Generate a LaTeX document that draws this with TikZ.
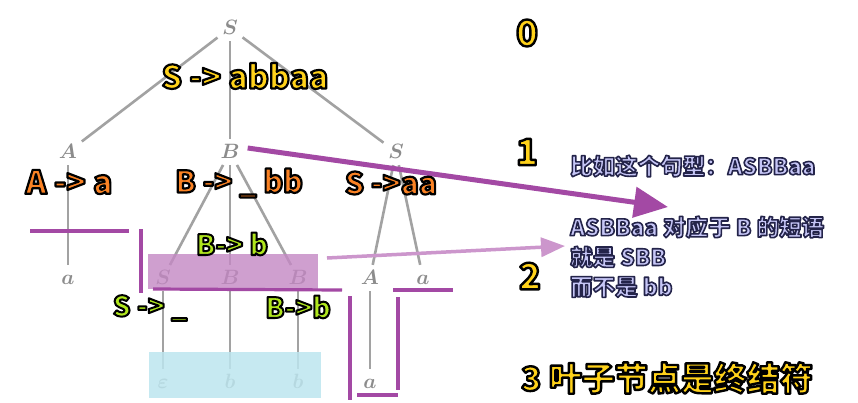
\documentclass[tikz,border=0pt]{standalone}
\usepackage{fontspec}
\newfontfamily\hei{Noto Sans CJK SC}
\usetikzlibrary{arrows.meta}
% 描边文字: 描边色, 线宽, 文字
\newcommand\outl[3]{\special{pdf:literal direct #1 RG #2 w 1 j 2 Tr}#3\special{pdf:literal direct 0 Tr}}
\definecolor{treegray}{HTML}{8C8C8C}
\definecolor{edgegray}{HTML}{A2A2A2}
\definecolor{ylw}{HTML}{FFD21A}
\definecolor{org}{HTML}{FA8224}
\definecolor{grn}{HTML}{B0E61E}
\definecolor{lav}{HTML}{C6C6F6}
\definecolor{purp}{HTML}{A349A4}
\definecolor{lpurp}{HTML}{CC96CC}
\definecolor{hlpurp}{HTML}{C488C4}
\definecolor{hlblue}{HTML}{BDE6EF}
\begin{document}
\begin{tikzpicture}[x=1pt,y=-1pt,
    sym/.style={text=treegray,font=\fontsize{22}{22}\selectfont\boldmath,inner sep=3pt,text height=14pt,text depth=2pt},
    edge/.style={draw=edgegray,line width=2.6pt,shorten <=2pt,shorten >=2pt},
    rulelab/.style={font=\hei\bfseries\fontsize{#1}{#1}\selectfont,inner sep=0pt},
    rulelab/.default=22,
    note/.style={text=lav,font=\hei\bfseries\fontsize{22.5}{22.5}\selectfont,inner sep=0pt,anchor=west},
    hlline/.style={draw=purp,line width=3.2pt},
    bigarrow/.style={draw=purp,line width=5pt,-{Triangle[length=34pt,width=30pt]}},
    smallarrow/.style={draw=lpurp,line width=3.5pt,-{Triangle[length=24pt,width=19pt]}}]
  \fill[white] (0,0) rectangle (858,402);
  \useasboundingbox (0,0) rectangle (858,402);
  % 语法树
  \node[sym] (r)  at (230,28)  {$S$};
  \node[sym] (nA) at (68,152)  {$A$};
  \node[sym] (nB) at (230,152) {$B$};
  \node[sym] (nS) at (396,152) {$S$};
  \node[sym] (a1) at (68,278)  {$a$};
  \node[sym] (s2) at (163,278) {$S$};
  \node[sym] (b2) at (230,278) {$B$};
  \node[sym] (b3) at (298,278) {$B$};
  \node[sym] (A2) at (370,278) {$A$};
  \node[sym] (a2) at (423,278) {$a$};
  \node[sym] (e3) at (163,382) {$\varepsilon$};
  \node[sym] (b4) at (230,382) {$b$};
  \node[sym] (b5) at (298,382) {$b$};
  \node[sym] (a3) at (370,382) {$a$};
  \draw[edge] (r) -- (nA);
  \draw[edge] (r) -- (nB);
  \draw[edge] (r) -- (nS);
  \draw[edge] (nA) -- (a1);
  \draw[edge] (nB) -- (s2);
  \draw[edge] (nB) -- (b2);
  \draw[edge] (nB) -- (b3);
  \draw[edge] (nS) -- (A2);
  \draw[edge] (nS) -- (a2);
  \draw[edge] (s2) -- (e3);
  \draw[edge] (b2) -- (b4);
  \draw[edge] (b3) -- (b5);
  \draw[edge] (A2) -- (a3);
  % 短语和叶子
  \fill[hlpurp,fill opacity=0.8] (148,254) rectangle (318,289);
  \fill[hlblue,fill opacity=0.85] (149,352) rectangle (321,398);
  \draw[hlline] (30,231) -- (129,231);
  \draw[hlline] (141,229) -- (141,293);
  \draw[hlline] (153,289) -- (342,290);
  \draw[hlline] (350,296) -- (350,400);
  \draw[hlline] (357,395) -- (398,395);
  \draw[hlline] (398,297) -- (398,390);
  \draw[hlline] (393,290) -- (453,290);
  \coordinate (tipA) at (668,207);
  \coordinate (lstart) at (327,258);
  \coordinate (tipB) at (565,246);
  \draw[bigarrow] ([xshift=5pt,yshift=4pt]nB.east) -- (tipA);
  \draw[smallarrow] (lstart) -- (tipB);
  % 产生式
  \node[rulelab=32,text=ylw] (pS) at (245,76) {\outl{0 0 0}{2.2}{S -> abbaa}};
  \node[rulelab=32,text=org] (pA) at (69,182) {\outl{0 0 0}{2.2}{A -> a}};
  \node[rulelab=30,text=org] (pB) at (239,183) {\outl{0 0 0}{2.2}{B -> \_ bb}};
  \node[rulelab=30,text=org] (pS2) at (391,183) {\outl{0 0 0}{2.2}{S ->aa}};
  \node[rulelab=28,text=grn] (pB2) at (232,244) {\outl{0 0 0}{2}{B-> b}};
  \node[rulelab=28,text=grn] (pS3) at (150,308) {\outl{0 0 0}{2}{S -> \_}};
  \node[rulelab=28,text=grn] (pB3) at (298,307) {\outl{0 0 0}{2}{B->b}};
  % 层数
  \node[rulelab=36,text=ylw] (l0) at (527,33)  {\outl{0 0 0}{2.4}{0}};
  \node[rulelab=36,text=ylw] (l1) at (527,152) {\outl{0 0 0}{2.4}{1}};
  \node[rulelab=36,text=ylw] (l2) at (530,276) {\outl{0 0 0}{2.4}{2}};
  \node[rulelab=33,text=ylw] (l3) at (667,378) {\outl{0 0 0}{2.4}{3 叶子节点是终结符}};
  % 说明
  \node[note] (n1) at (570,166) {\outl{0.14 0.14 0.29}{1.6}{比如这个句型：ASBBaa}};
  \node[note] (n2) at (570,227) {\outl{0.14 0.14 0.29}{1.6}{ASBBaa 对应于 B 的短语}};
  \node[note] (n3) at (570,257) {\outl{0.14 0.14 0.29}{1.6}{就是 SBB}};
  \node[note] (n4) at (570,287) {\outl{0.14 0.14 0.29}{1.6}{而不是 bb}};
\end{tikzpicture}
\end{document}
